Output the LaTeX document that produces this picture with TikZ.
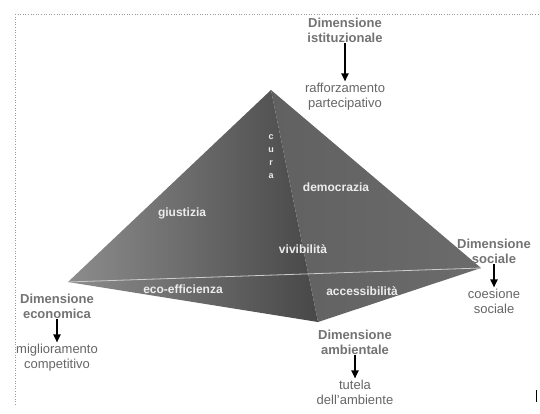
\documentclass[tikz,border=0pt]{standalone}
\usepackage{fontspec}
\setmainfont{Liberation Sans}
\usetikzlibrary{positioning,arrows.meta}
\tikzset{
  dimlabel/.style = {align=center, font=\fontsize{13}{15}\selectfont\bfseries, text=black!55, inner sep=1pt},
  goal/.style = {align=center, font=\fontsize{13}{15}\selectfont, text=black!60, inner sep=1pt},
  facelabel/.style = {font=\fontsize{12}{13}\selectfont\bfseries, text=white!85!gray, inner sep=1pt},
  dimarrow/.style = {-{Triangle[length=8pt,width=7pt]}, line width=1.8pt, black}
}

\begin{document}
\begin{tikzpicture}[x=1pt, y=-1pt, node distance=23pt]
\useasboundingbox (0,0) rectangle (540,414);
\fill[white] (0,0) rectangle (540,414);

% dotted frame
\draw[black!40, dotted, line width=0.6pt] (15,14) -- (540,14);
\draw[black!40, dotted, line width=0.6pt] (15,14) -- (15,405);

% pyramid corners
\coordinate (apex) at (271,90);
\coordinate (west) at (68,282);
\coordinate (east) at (481,268);
\coordinate (front) at (318,322);

\shade[left color=black!45, right color=black!72] (apex) -- (west) -- (front) -- cycle;
\shade[left color=black!62, middle color=black!32, right color=black!58] (apex) -- (front) -- (east) -- cycle;
\draw[white!60!gray, line width=0.8pt] (west) -- (east);

% faces
\node[facelabel] (giu) at (182,213) {giustizia};
\node[facelabel] (dem) at (336,187) {democrazia};
\node[facelabel] (viv) at (303,249) {vivibilit\`a};
\node[facelabel] (eco) at (183,289) {eco-efficienza};
\node[facelabel] (acc) at (362,291) {accessibilit\`a};
\node[facelabel, align=center, font=\fontsize{9}{13}\selectfont\bfseries] (cur) at (271,157) {c\\u\\r\\a};

% dimensions
\node[dimlabel] (ist) at (345,30) {Dimensione\\istituzionale};
\node[goal, below = 38pt of ist] (istg) {rafforzamento\\partecipativo};
\draw[dimarrow] (ist) -- (istg);

\node[dimlabel] (soc) at (494,251) {Dimensione\\sociale};
\node[goal, below = of soc] (socg) {coesione\\sociale};
\draw[dimarrow] (soc) -- (socg);

\node[dimlabel] (econ) at (57,306) {Dimensione\\economica};
\node[goal, below = of econ] (econg) {miglioramento\\competitivo};
\draw[dimarrow] (econ) -- (econg);

\node[dimlabel] (amb) at (355,342) {Dimensione\\ambientale};
\node[goal, below = of amb] (ambg) {tutela\\dell'ambiente};
\draw[dimarrow] (amb) -- (ambg);

\draw[black, line width=1pt] (536,390) -- (536,402);
\end{tikzpicture}
\end{document}
